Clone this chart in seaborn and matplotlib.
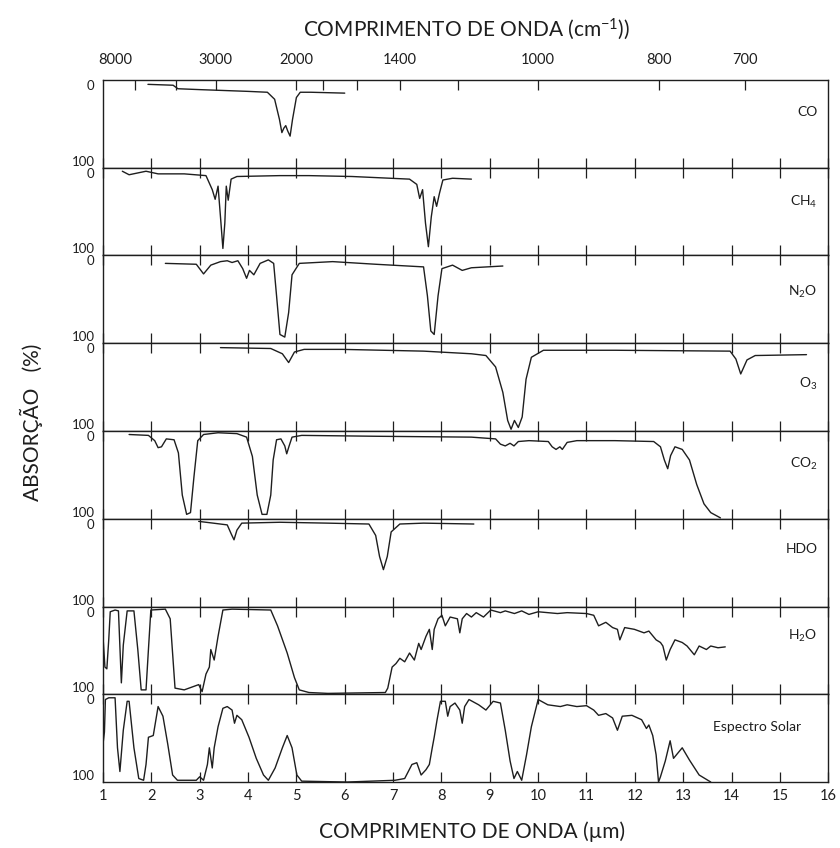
import numpy as np
import matplotlib
matplotlib.use("Agg")
import matplotlib.pyplot as plt
import seaborn as sns

# ---------------- data ----------------
gases = ["CO", "CH$_4$", "N$_2$O", "O$_3$", "CO$_2$", "HDO", "H$_2$O", "Espectro Solar"]

co_x = [1.93, 2.45, 2.55, 3.0, 3.5, 4.0, 4.4, 4.55, 4.65, 4.7, 4.74, 4.78, 4.82, 4.87, 4.92, 5.0, 5.08, 5.3, 6.0]
co_y = [5, 6, 10, 11, 12, 13, 14, 22, 45, 60, 55, 52, 58, 64, 45, 20, 14, 14, 15]

ch4_x = [1.40, 1.54, 1.89, 2.14, 2.68, 3.13, 3.26, 3.32, 3.38, 3.44, 3.48, 3.52, 3.55, 3.59, 3.65, 3.77,
         4.66, 5.26, 6.15, 7.34, 7.49, 7.55, 7.61, 7.67, 7.73, 7.79, 7.85, 7.90, 7.96, 8.03, 8.23, 8.62]
ch4_y = [4, 8, 4, 7, 7, 9, 25, 36, 21, 63, 92, 63, 21, 37, 13, 10,
         9, 9, 10, 13, 19, 35, 25, 63, 90, 56, 33, 44, 29, 14, 12, 13]

n2o_x = [2.29, 2.93, 3.08, 3.23, 3.43, 3.57, 3.67, 3.79, 3.89, 3.97, 4.03, 4.12, 4.25, 4.42, 4.53, 4.59,
         4.66, 4.76, 4.84, 4.91, 5.06, 5.75, 6.64, 7.63, 7.71, 7.78, 7.85, 7.93, 8.01, 8.23, 8.43, 8.62, 9.27]
n2o_y = [9, 10, 21, 11, 7, 6, 8, 6, 15, 26, 17, 22, 9, 5, 9, 46,
         90, 93, 65, 22, 9, 7, 10, 13, 46, 86, 90, 46, 15, 11, 17, 14, 12]

o3_x = [3.43, 4.47, 4.71, 4.84, 4.96, 5.16, 5.95, 7.63, 8.62, 8.92, 9.12, 9.27, 9.37, 9.44, 9.51, 9.59,
        9.67, 9.75, 9.86, 10.11, 11.59, 13.97, 14.09, 14.19, 14.32, 14.49, 15.55]
o3_y = [5, 6, 12, 22, 10, 7, 7, 9, 12, 14, 27, 56, 88, 98, 88, 96,
        84, 41, 16, 8, 8, 9, 18, 35, 19, 14, 13]

co2_x = [1.54, 1.94, 2.07, 2.14, 2.21, 2.31, 2.47, 2.56, 2.64, 2.73, 2.81, 2.88, 2.96, 3.08, 3.38, 3.77,
         3.97, 4.09, 4.19, 4.29, 4.39, 4.47, 4.52, 4.59, 4.68, 4.76, 4.80, 4.85, 4.91, 5.11, 6.64, 8.62,
         9.12, 9.22, 9.32, 9.42, 9.50, 9.59, 9.81, 10.21, 10.29, 10.37, 10.45, 10.50, 10.60, 10.80, 11.59,
         12.39, 12.53, 12.61, 12.68, 12.74, 12.83, 12.98, 13.13, 13.28, 13.43, 13.57, 13.77]
co2_y = [4, 5, 11, 19, 18, 9, 10, 25, 73, 95, 93, 53, 11, 4, 2, 3,
         7, 29, 73, 95, 95, 73, 33, 10, 9, 17, 26, 17, 7, 5, 6, 7,
         9, 15, 17, 14, 17, 12, 11, 12, 18, 21, 18, 21, 13, 11, 11,
         12, 18, 33, 43, 28, 18, 21, 33, 61, 83, 93, 99]

hdo_x = [2.98, 3.28, 3.57, 3.65, 3.71, 3.77, 3.87, 4.66, 5.65, 6.50, 6.64, 6.72, 6.80, 6.88, 6.96, 7.14, 7.63, 8.67]
hdo_y = [3, 5, 7, 17, 24, 13, 5, 4, 5, 6, 19, 43, 58, 43, 15, 6, 5, 6]

h2o_x = [1.0, 1.04, 1.08, 1.12, 1.15, 1.25, 1.32, 1.38, 1.42, 1.5, 1.64, 1.72, 1.79, 1.89, 1.94, 1.99,
         2.29, 2.39, 2.49, 2.68, 2.88, 2.98, 3.05, 3.13, 3.2, 3.23, 3.3, 3.38, 3.48, 3.67, 4.47, 4.61,
         4.81, 4.96, 5.06, 5.26, 5.65, 6.84, 6.89, 6.98, 7.06, 7.14, 7.24, 7.34, 7.44, 7.53, 7.58, 7.68,
         7.75, 7.81, 7.85, 7.93, 8.01, 8.08, 8.18, 8.33, 8.38, 8.43, 8.52, 8.62, 8.72, 8.87, 9.02, 9.22,
         9.32, 9.51, 9.66, 9.81, 10.0, 10.4, 10.6, 11.0, 11.15, 11.25, 11.4, 11.54, 11.64, 11.69, 11.79,
         11.99, 12.19, 12.29, 12.44, 12.53, 12.58, 12.65, 12.73, 12.83, 12.98, 13.08, 13.23, 13.33,
         13.48, 13.57, 13.72, 13.87]
h2o_y = [34, 69, 71, 37, 6, 4, 5, 87, 44, 5, 5, 49, 95, 95, 49, 4,
         3, 14, 93, 95, 91, 89, 97, 77, 69, 49, 61, 34, 4, 3, 4, 22,
         53, 81, 95, 98, 99, 98, 93, 69, 65, 59, 63, 53, 61, 42, 49, 34,
         26, 49, 26, 14, 10, 22, 12, 14, 30, 14, 8, 12, 7, 12, 4, 7,
         5, 8, 5, 9, 6, 8, 7, 8, 10, 22, 18, 24, 26, 38, 24,
         26, 30, 28, 38, 41, 45, 61, 49, 38, 41, 45, 55, 45,
         49, 45, 47, 46]

sol_x = [1.0, 1.03, 1.05, 1.12, 1.25, 1.3, 1.35, 1.42, 1.5, 1.54, 1.64, 1.74, 1.84, 1.89, 1.94, 2.04,
         2.14, 2.24, 2.34, 2.44, 2.54, 2.93, 3.0, 3.08, 3.16, 3.2, 3.26, 3.3, 3.38, 3.48, 3.57, 3.67,
         3.72, 3.77, 3.87, 4.02, 4.17, 4.32, 4.42, 4.56, 4.71, 4.81, 4.91, 5.01, 5.11, 6.05, 7.04, 7.24,
         7.39, 7.49, 7.58, 7.68, 7.75, 7.81, 7.85, 7.91, 7.98, 8.08, 8.13, 8.18, 8.28, 8.38, 8.43, 8.48,
         8.57, 8.77, 8.92, 9.07, 9.22, 9.32, 9.42, 9.5, 9.57, 9.66, 9.76, 9.86, 10.0, 10.2, 10.46, 10.6,
         10.8, 11.0, 11.15, 11.25, 11.4, 11.54, 11.64, 11.74, 11.94, 12.14, 12.24, 12.29, 12.37, 12.44,
         12.49, 12.53, 12.63, 12.73, 12.8, 12.98, 13.13, 13.33, 13.57]
sol_y = [57, 43, 6, 4, 4, 61, 88, 41, 8, 8, 61, 96, 98, 80, 49, 47,
         14, 25, 57, 92, 98, 98, 94, 98, 80, 61, 84, 61, 37, 16, 14, 18,
         33, 24, 29, 49, 73, 92, 98, 84, 61, 47, 61, 92, 99, 100, 98, 96,
         80, 78, 92, 86, 80, 61, 49, 29, 8, 8, 25, 14, 10, 18, 33, 14,
         6, 12, 18, 8, 10, 41, 76, 96, 88, 98, 69, 37, 6, 12, 14, 12,
         14, 13, 18, 24, 22, 27, 41, 25, 24, 29, 39, 35, 47, 69,
         100, 94, 76, 53, 73, 61, 75, 92, 100]

series_x = [co_x, ch4_x, n2o_x, o3_x, co2_x, hdo_x, h2o_x, sol_x]
series_y = [co_y, ch4_y, n2o_y, o3_y, co2_y, hdo_y, h2o_y, sol_y]

um_ticks = list(range(1, 17))
wn_labels = [8000, 3000, 2000, 1400, 1000, 800, 700]
wn_minor = [6000, 4000, 3000, 2000, 1800, 1600, 1400, 1200, 1000, 800, 700]

# ---------------- style ----------------
sns.set_theme(style="white")
plt.rcParams["font.family"] = ["Lato", "DejaVu Sans"]
plt.rcParams["mathtext.fontset"] = "custom"
plt.rcParams["mathtext.rm"] = "Lato"
plt.rcParams["mathtext.it"] = "Lato:italic"
plt.rcParams["mathtext.bf"] = "Lato:bold"

ink = "#1e1e1e"
fig = plt.figure(figsize=(8.4, 8.48), dpi=100)
axes = fig.subplots(8, 1, sharex=True, gridspec_kw=dict(hspace=0))
fig.subplots_adjust(left=0.1226, right=0.986, top=0.9057, bottom=0.0778)

label_pos = [(0.985, 0.634), (0.985, 0.606), (0.985, 0.58), (0.985, 0.54),
             (0.985, 0.62), (0.985, 0.65), (0.985, 0.66), (0.963, 0.63)]

for i, ax in enumerate(axes):
    sns.lineplot(x=series_x[i], y=series_y[i], ax=ax, color=ink, linewidth=1.0,
                 sort=False, estimator=None)
    ax.set_xlim(1, 16)
    ax.set_ylim(100, 0)
    ax.set_xticks(um_ticks)
    ax.tick_params(axis="x", which="major", direction="in", top=True, bottom=True,
                   length=7, width=0.9, color=ink, labelbottom=(i == 7),
                   labelsize=10.5, pad=5, labelcolor=ink)
    ax.set_yticks([0, 100])
    ax.set_yticklabels(["0", "100"])
    ax.tick_params(axis="y", length=0, pad=6, labelsize=9.5, labelcolor=ink)
    yl = ax.get_yticklabels()
    yl[0].set_verticalalignment("top")
    yl[1].set_verticalalignment("bottom")
    for sp in ax.spines.values():
        sp.set_color(ink)
        sp.set_linewidth(1.0)
    ax.set_xlabel("")
    ax.set_ylabel("")
    lx, ly = label_pos[i]
    ax.text(lx, ly, gases[i], transform=ax.transAxes, ha="right", va="center",
            fontsize=10, color=ink)

axes[0].tick_params(axis="x", top=False)
axes[7].set_xticklabels([str(t) for t in um_ticks])

# top wavenumber axis
axt = axes[0].twiny()
axt.set_xlim(1, 16)
axt.set_xticks([1e4 / w for w in wn_labels])
axt.set_xticklabels([str(w) for w in wn_labels])
axt.set_xticks([1e4 / w for w in wn_minor], minor=True)
axt.xaxis.remove_overlapping_locs = False
axt.tick_params(axis="x", which="major", length=0, pad=9, labelsize=10.5, labelcolor=ink)
axt.tick_params(axis="x", which="minor", direction="in", length=7, width=0.9, color=ink)
for sp in axt.spines.values():
    sp.set_visible(False)

fig.text(0.556, 0.965, "COMPRIMENTO DE ONDA (cm$^{-1}$))", ha="center", va="center",
         fontsize=15, color=ink)
fig.text(0.562, 0.019, "COMPRIMENTO DE ONDA (\u00b5m)", ha="center", va="center",
         fontsize=15, color=ink)
fig.text(0.038, 0.502, "ABSORÇÃO   (%)", ha="center", va="center", rotation=90,
         fontsize=15, color=ink)

fig.savefig("out.png", dpi=100, facecolor="white")
